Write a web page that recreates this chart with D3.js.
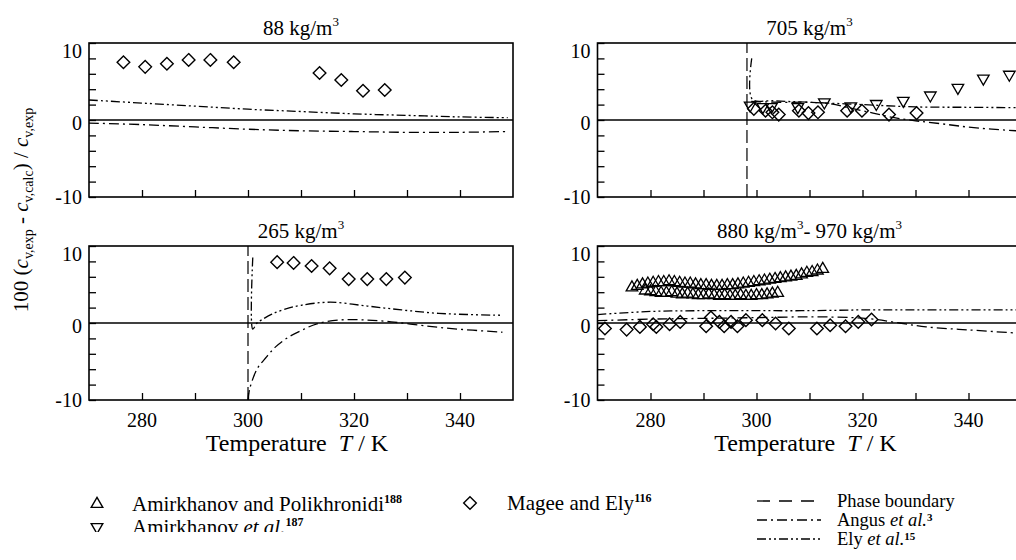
<!DOCTYPE html>
<html>
<head>
<meta charset="utf-8">
<script src="https://cdn.jsdelivr.net/npm/d3@7"></script>
<style>
body { margin: 0; background: #fff; }
svg { font-family: "Liberation Serif", "Times New Roman", serif; }
</style>
</head>
<body>
<svg id="chart" width="1016" height="560"></svg>
<script>
// axis values
var tempTicks = [280, 290, 300, 310, 320, 330, 340];
var tempLabels = [280, 300, 320, 340];
var devTicks = [-10, -8, -6, -4, -2, 0, 2, 4, 6, 8, 10];
var devLabels = [-10, 0, 10];

// 88 kg/m3
var magee88 = [[276.5, 7.5], [280.6, 6.9], [284.7, 7.3], [288.8, 7.8], [292.9, 7.8], [297.3, 7.5],
  [313.5, 6.1], [317.6, 5.2], [321.7, 3.8], [325.8, 3.9]];
var angus88 = [[270, -0.4], [280, -0.6], [290, -0.9], [300, -1.2], [310, -1.4], [320, -1.5],
  [330, -1.6], [340, -1.6], [349, -1.5]];
var ely88 = [[270, 2.6], [280, 2.2], [290, 1.8], [300, 1.4], [310, 1.1], [320, 0.8],
  [330, 0.6], [340, 0.4], [349, 0.3]];

// 705 kg/m3
var phase705 = 298.2;
var amirk705 = [[298.8, 1.9], [301.2, 1.7], [302.8, 1.7], [307.8, 1.7], [312.8, 2.3], [317.8, 1.8],
  [322.6, 2.1], [327.7, 2.5], [332.8, 3.2], [338.0, 4.2], [342.8, 5.4], [347.7, 5.9]];
var magee705 = [[299.5, 1.45], [301.7, 1.2], [303.0, 1.0], [304.2, 0.7], [308.0, 1.2], [309.8, 0.9],
  [311.6, 1.0], [317.1, 1.2], [319.9, 1.2], [325.0, 0.7], [330.2, 0.9]];
var angus705 = [[299, 2.4], [305, 2.3], [310, 2.3], [314, 2.1], [318, 1.5], [322, 0.9], [326, 0.3],
  [330, -0.1], [335, -0.5], [341, -1.0], [349, -1.4]];
var ely705 = [[299.1, 8.0], [299.2, 2.7], [303, 2.5], [310, 2.3], [320, 2.0], [330, 1.7],
  [340, 1.65], [349, 1.6]];

// 265 kg/m3
var phase265 = 300.0;
var magee265 = [[305.5, 7.9], [308.6, 7.8], [312.0, 7.4], [315.4, 7.1], [319.0, 5.7], [322.5, 5.7],
  [326.1, 5.7], [329.6, 5.9]];
var angus265 = [[300.0, -10], [300.3, -8.6], [301.7, -6.0], [303.5, -4.4], [305.2, -3.1], [307.5, -1.9],
  [310, -1.0], [313, -0.1], [317.5, 0.4], [322, 0.4], [327, 0.15], [332.5, -0.3], [338, -0.7], [348, -1.2]];
var ely265 = [[300.9, 8.5], [300.9, -0.8], [301.7, 0.0], [302.8, 0.5], [304.5, 1.15], [307, 1.8],
  [310, 2.3], [315.5, 2.7], [322.5, 2.2], [329, 1.7], [336, 1.25], [348, 1.0]];

// 880 - 970 kg/m3
var magee880 = [[271.4, -0.72], [275.5, -0.86], [278.0, -0.51], [280.5, -0.16], [281.1, -0.51],
  [283.6, -0.16], [285.6, 0.14], [290.5, -0.42], [291.4, 0.72], [293.0, 0.14], [293.9, -0.42],
  [295.2, 0.14], [296.4, -0.42], [298.0, 0.37], [301.1, 0.37], [303.6, -0.07], [306.1, -0.72],
  [311.4, -0.72], [313.9, -0.29], [316.8, -0.42], [319.2, 0.14], [321.7, 0.46]];
var amirk880 = [[276.5, 4.6], [277.5, 4.8], [278.5, 5.0], [279.5, 5.1], [280.5, 5.2], [281.5, 5.3],
  [282.5, 5.3], [283.5, 5.4], [284.5, 5.3], [285.5, 5.2], [286.5, 5.1], [287.5, 5.1], [288.5, 5.0],
  [289.5, 4.9], [290.5, 4.9], [291.5, 4.8], [292.5, 4.8], [293.5, 4.8], [294.5, 4.9], [295.5, 4.9],
  [296.5, 5.0], [297.5, 5.1], [298.5, 5.2], [299.5, 5.3], [300.5, 5.4], [301.5, 5.5], [302.5, 5.6],
  [303.5, 5.7], [304.5, 5.8], [305.5, 5.9], [306.5, 6.0], [307.5, 6.1], [308.5, 6.3], [309.5, 6.5],
  [310.5, 6.6], [311.5, 6.8], [312.5, 7.0],
  [279, 4.2], [280, 4.1], [281, 4.0], [282, 3.9], [283, 3.9], [284, 4.0], [285, 3.8], [286, 3.7],
  [287, 3.8], [288, 3.7], [289, 3.6], [290, 3.6], [291, 3.7], [292, 3.6], [293, 3.5], [294, 3.6],
  [295, 3.5], [296, 3.5], [297, 3.6], [298, 3.5], [299, 3.5], [300, 3.6], [301, 3.6], [302, 3.7],
  [303, 3.8], [304, 3.9]];
var angus880 = [[270, 0.3], [280, 0.5], [290, 0.6], [300, 0.7], [310, 0.8], [318, 0.7], [322, 0.5],
  [327, 0.0], [332, -0.5], [340, -0.9], [349, -1.3]];
var ely880 = [[270, 1.1], [280, 1.5], [290, 1.6], [300, 1.6], [310, 1.6], [320, 1.7], [335, 1.7], [349, 1.7]];

var W = 424, H = 154;
var svg = d3.select("#chart");

var diamond = {
  draw: function(ctx, size) {
    var r = Math.sqrt(size / 2);
    ctx.moveTo(0, -r); ctx.lineTo(r, 0); ctx.lineTo(0, r); ctx.lineTo(-r, 0); ctx.closePath();
  }
};
var diamondPath = d3.symbol().type(diamond).size(80)();
var triPath = d3.symbol().type(d3.symbolTriangle).size(58)();

var angusDash = "10,4,2,4";
var elyDash = "9,3,2,3,2,3";

var panels = [
  {id: "p88", x0: 89, y0: 43, title: [["88 kg/m", 0], ["3", 1]], magee: magee88, angus: angus88, ely: ely88},
  {id: "p705", x0: 597.5, y0: 43, title: [["705 kg/m", 0], ["3", 1]], magee: magee705, down: amirk705,
    angus: angus705, ely: ely705, phase: phase705},
  {id: "p265", x0: 89, y0: 246, title: [["265 kg/m", 0], ["3", 1]], magee: magee265, angus: angus265,
    ely: ely265, phase: phase265, xlab: true},
  {id: "p880", x0: 597.5, y0: 246, title: [["880 kg/m", 0], ["3", 1], ["- 970 kg/m", 0], ["3", 1]],
    magee: magee880, up: amirk880, angus: angus880, ely: ely880, xlab: true}
];

// parts: 0 plain, 1 superscript, 2 italic, 3 bold superscript
function addParts(text, parts, supSize, rise) {
  var raised = false;
  parts.forEach(function(p) {
    var t = text.append("tspan").text(p[0]);
    var sup = p[1] === 1 || p[1] === 3;
    if (sup) t.attr("font-size", supSize);
    if (p[1] === 3) t.attr("font-weight", "bold");
    if (p[1] === 2) t.attr("font-style", "italic");
    if (sup && !raised) { t.attr("dy", -rise); raised = true; }
    else if (!sup && raised) { t.attr("dy", rise); raised = false; }
  });
}

var labelShift = {"10": 15, "0": 10, "-10": 7};

panels.forEach(function(p) {
  var x = d3.scaleLinear().domain([270, 350]).range([p.x0, p.x0 + W]);
  var y = d3.scaleLinear().domain([-10, 10]).range([p.y0 + H, p.y0]);
  var g = svg.append("g");

  svg.append("clipPath").attr("id", "clip-" + p.id)
    .append("rect").attr("x", p.x0).attr("y", p.y0).attr("width", W).attr("height", H);

  g.append("g").attr("transform", "translate(" + p.x0 + ",0)")
    .call(d3.axisLeft(y).tickValues(devTicks).tickSize(-7).tickFormat(""))
    .call(function(a) { a.select(".domain").remove(); a.selectAll("line").attr("stroke-width", 1.3); });
  g.append("g").attr("transform", "translate(0," + (p.y0 + H) + ")")
    .call(d3.axisBottom(x).tickValues(tempTicks).tickSize(-7).tickFormat(""))
    .call(function(a) { a.select(".domain").remove(); a.selectAll("line").attr("stroke-width", 1.3); });

  g.append("rect").attr("x", p.x0).attr("y", p.y0).attr("width", W).attr("height", H)
    .attr("fill", "none").attr("stroke", "#000").attr("stroke-width", 1.6);

  g.append("line").attr("x1", x(270)).attr("x2", x(350)).attr("y1", y(0)).attr("y2", y(0))
    .attr("stroke", "#000").attr("stroke-width", 1.4);

  g.selectAll(".ylab").data(devLabels).enter().append("text")
    .attr("x", p.x0 - 7).attr("y", function(d) { return y(d) + labelShift[d]; })
    .attr("text-anchor", "end").attr("font-size", 20).text(function(d) { return d; });

  if (p.xlab) {
    g.selectAll(".xlab").data(tempLabels).enter().append("text")
      .attr("x", function(d) { return x(d); }).attr("y", p.y0 + H + 27)
      .attr("text-anchor", "middle").attr("font-size", 20).text(function(d) { return d; });
    var xt = g.append("text").attr("x", (p.x0 + W / 2) - 4).attr("y", p.y0 + H + 51)
      .attr("text-anchor", "middle").attr("font-size", 24);
    xt.append("tspan").text("Temperature\u00a0\u00a0");
    xt.append("tspan").attr("font-style", "italic").text("T");
    xt.append("tspan").text(" / K");
  }

  var tt = g.append("text").attr("x", p.x0 + W / 2).attr("y", p.y0 - 8)
    .attr("text-anchor", "middle").attr("font-size", 21);
  addParts(tt, p.title, 13, 9);

  var inner = g.append("g").attr("clip-path", "url(#clip-" + p.id + ")");
  var line = d3.line().x(function(d) { return x(d[0]); }).y(function(d) { return y(d[1]); })
    .curve(d3.curveCatmullRom.alpha(0.5));

  if (p.phase) {
    inner.append("line").attr("x1", x(p.phase)).attr("x2", x(p.phase)).attr("y1", y(-10)).attr("y2", y(10))
      .attr("stroke", "#000").attr("stroke-width", 1.2).attr("stroke-dasharray", "13,5");
  }
  inner.append("path").attr("d", line(p.angus)).attr("fill", "none").attr("stroke", "#000")
    .attr("stroke-width", 1.3).attr("stroke-dasharray", angusDash);
  inner.append("path").attr("d", line(p.ely)).attr("fill", "none").attr("stroke", "#000")
    .attr("stroke-width", 1.3).attr("stroke-dasharray", elyDash);

  inner.selectAll(".mag").data(p.magee).enter().append("path")
    .attr("d", diamondPath).attr("fill", "none").attr("stroke", "#000").attr("stroke-width", 1.4)
    .attr("transform", function(d) { return "translate(" + x(d[0]) + "," + y(d[1]) + ")"; });
  if (p.up) {
    inner.selectAll(".up").data(p.up).enter().append("path")
      .attr("d", triPath).attr("fill", "none").attr("stroke", "#000").attr("stroke-width", 1.3)
      .attr("transform", function(d) { return "translate(" + x(d[0]) + "," + y(d[1]) + ")"; });
  }
  if (p.down) {
    inner.selectAll(".down").data(p.down).enter().append("path")
      .attr("d", triPath).attr("fill", "none").attr("stroke", "#000").attr("stroke-width", 1.3)
      .attr("transform", function(d) { return "translate(" + x(d[0]) + "," + y(d[1]) + ") rotate(180)"; });
  }
});

// y axis title
var yt = svg.append("text").attr("transform", "translate(28,210) rotate(-90)")
  .attr("text-anchor", "middle").attr("font-size", 21);
yt.append("tspan").text("100 (");
yt.append("tspan").attr("font-style", "italic").text("c");
yt.append("tspan").attr("font-size", 14).attr("dy", 5).text("v,exp");
yt.append("tspan").attr("dy", -5).text(" - ");
yt.append("tspan").attr("font-style", "italic").text("c");
yt.append("tspan").attr("font-size", 14).attr("dy", 5).text("v,calc");
yt.append("tspan").attr("dy", -5).text(") / ");
yt.append("tspan").attr("font-style", "italic").text("c");
yt.append("tspan").attr("font-size", 14).attr("dy", 5).text("v,exp");

// legend
svg.append("clipPath").attr("id", "legclip").append("rect")
  .attr("x", 0).attr("y", 0).attr("width", 700).attr("height", 532);
var leg = svg.append("g").attr("clip-path", "url(#legclip)");

var symbolItems = [
  {sym: triPath, rot: 0, x: 97, y: 504, tx: 132, parts: [["Amirkhanov and Polikhronidi", 0], ["188", 3]]},
  {sym: triPath, rot: 180, x: 97, y: 527, tx: 132, parts: [["Amirkhanov ", 0], ["et al.", 2], ["187", 3]]},
  {sym: diamondPath, rot: 0, x: 470, y: 503, tx: 507, parts: [["Magee and Ely", 0], ["116", 3]]}
];
symbolItems.forEach(function(it) {
  leg.append("path").attr("d", it.sym).attr("fill", "none").attr("stroke", "#000").attr("stroke-width", 1.4)
    .attr("transform", "translate(" + it.x + "," + it.y + ") rotate(" + it.rot + ")");
  var t = leg.append("text").attr("x", it.tx).attr("y", it.y + 7).attr("font-size", 21);
  addParts(t, it.parts, 12, 8);
});

var lineItems = [
  {dash: "13,9", y: 501, parts: [["Phase boundary", 0]]},
  {dash: angusDash, y: 520, parts: [["Angus ", 0], ["et al.", 2], ["3", 3]]},
  {dash: elyDash, y: 539, parts: [["Ely ", 0], ["et al.", 2], ["15", 3]]}
];
lineItems.forEach(function(it) {
  svg.append("line").attr("x1", 757).attr("x2", 821).attr("y1", it.y).attr("y2", it.y)
    .attr("stroke", "#000").attr("stroke-width", 1.3).attr("stroke-dasharray", it.dash);
  var t = svg.append("text").attr("x", 837).attr("y", it.y + 6).attr("font-size", 18.5);
  addParts(t, it.parts, 11, 5);
});
</script>
</body>
</html>
